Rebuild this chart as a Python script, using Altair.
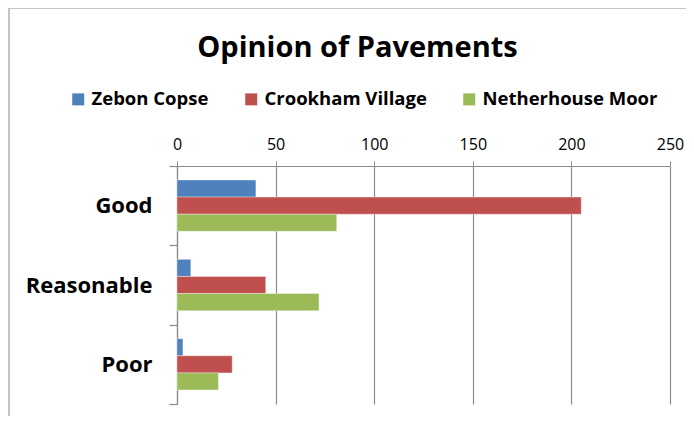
import altair as alt
import pandas as pd

categories = ["Good", "Reasonable", "Poor"]
series = ["Zebon Copse", "Crookham Village", "Netherhouse Moor"]
zebon = [40, 7, 3]
crookham = [205, 45, 28]
netherhouse = [81, 72, 21]
colors = ["#4F81BD", "#C0504D", "#9BBB59"]
x_ticks = [0, 50, 100, 150, 200, 250]

rows = []
for s, vals in zip(series, [zebon, crookham, netherhouse]):
    for c, v in zip(categories, vals):
        rows.append({"Opinion": c, "Site": s, "Count": v})
df = pd.DataFrame(rows)

FONT = "Open Sans"

bars = alt.Chart(df).mark_bar(stroke="white", strokeWidth=0.6, strokeOpacity=0.6).encode(
    y=alt.Y("Opinion:N", sort=categories, title=None,
            scale=alt.Scale(paddingInner=0, paddingOuter=0),
            axis=alt.Axis(tickBand="extent", domainColor="#888888", tickColor="#888888",
                          tickSize=8, labelFontSize=22, labelFontWeight="bold",
                          labelFont=FONT, labelColor="black", labelPadding=17,
                          labelLimit=300, grid=False, domainWidth=1.2, tickWidth=1.2)),
    yOffset=alt.YOffset("Site:N", sort=series,
                        scale=alt.Scale(paddingInner=0, paddingOuter=0.82)),
    x=alt.X("Count:Q", title=None,
            scale=alt.Scale(domain=[0, 250], nice=False),
            axis=alt.Axis(orient="top", values=x_ticks, grid=True, gridColor="#8c8c8c",
                          gridWidth=1.2, domainColor="#8c8c8c", tickColor="#8c8c8c",
                          tickSize=5, labelFontSize=16, labelFont=FONT,
                          labelColor="black", labelPadding=9, domainWidth=1.2,
                          labelFlush=False)),
    color=alt.Color("Site:N", sort=series,
                    scale=alt.Scale(domain=series, range=colors),
                    legend=alt.Legend(title=None, orient="none", direction="horizontal",
                                      legendX=-108, legendY=-76, symbolType="square",
                                      symbolSize=144, symbolStrokeWidth=0,
                                      labelFontSize=18.5, labelFont=FONT,
                                      labelFontWeight="bold", labelColor="black",
                                      labelLimit=300, columnPadding=33, labelOffset=4)),
)

border_top = alt.Chart(df).mark_rule(color="#c4c4c4", strokeWidth=2).encode(
    x=alt.value(-168), x2=alt.value(509), y=alt.value(-158)
)
border_left = alt.Chart(df).mark_rule(color="#c4c4c4", strokeWidth=2).encode(
    x=alt.value(-168), y=alt.value(-158), y2=alt.value(260)
)

chart = alt.layer(bars, border_top, border_left).properties(
    width=493, height=238,
    autosize=alt.AutoSizeParams(type="none"),
    padding={"left": 169, "top": 158, "right": 16, "bottom": 12},
    title=alt.TitleParams("Opinion of Pavements", font=FONT, fontSize=29,
                          fontWeight="bold", color="black", anchor="middle",
                          dx=-66, dy=66, offset=10),
).configure_view(stroke=None)

chart.save("out.html", embed_options={"renderer": "svg", "actions": False})
